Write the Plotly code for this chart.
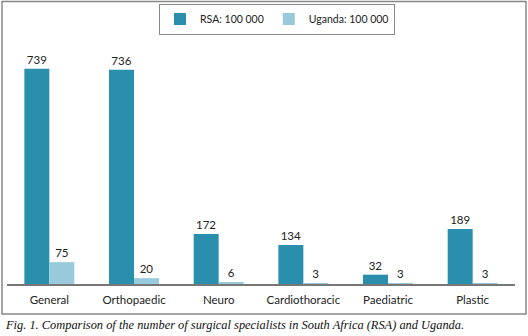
import plotly.graph_objects as go

categories = ["General", "Orthopaedic", "Neuro", "Cardiothoracic", "Paediatric", "Plastic"]
rsa_values = [739, 736, 172, 134, 32, 189]
uganda_values = [75, 20, 6, 3, 3, 3]
rsa_name = "RSA: 100 000"
uganda_name = "Uganda: 100 000"
caption = "Fig. 1. Comparison of the number of surgical specialists in South Africa (RSA) and Uganda."

W, H = 528, 336
L, R, T, B = 7, 13, 40, 52
pw, ph = W - L - R, H - T - B

def px(x):
    return (x - L) / pw

def py(y):
    return (H - B - y) / ph

font_family = "Lato, Open Sans, sans-serif"

fig = go.Figure()
fig.add_trace(go.Bar(
    x=categories, y=rsa_values, name=rsa_name,
    marker=dict(color="#2A8FAD", line=dict(width=0)),
    text=[str(v) for v in rsa_values], textposition="outside",
    textfont=dict(size=11.5, color="#222"), cliponaxis=False,
))
fig.add_trace(go.Bar(
    x=categories, y=uganda_values, name=uganda_name,
    marker=dict(color="#98CADB", line=dict(width=0)),
    text=[str(v) for v in uganda_values], textposition="outside",
    textfont=dict(size=11.5, color="#222"), cliponaxis=False,
))

fig.update_layout(
    width=W, height=H,
    margin=dict(l=L, r=R, t=T, b=B, autoexpand=False),
    paper_bgcolor="white", plot_bgcolor="white",
    font=dict(family=font_family, size=11, color="#222"),
    barmode="group", bargap=0.41, bargroupgap=0,
    showlegend=True,
    legend=dict(
        orientation="h", xref="container", yref="container",
        x=277 / W, xanchor="center", y=1 - 19 / H, yanchor="middle",
        bordercolor="#888", borderwidth=1, bgcolor="white",
        font=dict(size=10.5), tracegroupgap=0, itemwidth=30,
    ),
    xaxis=dict(
        showline=True, linecolor="#777", linewidth=1.5, ticks="",
        ticklabelstandoff=4, tickfont=dict(size=11.5), showgrid=False,
        automargin=False,
    ),
    yaxis=dict(range=[0, 838], visible=False, showgrid=False, zeroline=False,
               automargin=False),
    shapes=[dict(
        type="rect", xref="paper", yref="paper",
        x0=px(2), x1=px(526), y0=py(314), y1=py(1.5),
        line=dict(color="#888", width=1.5), fillcolor="rgba(0,0,0,0)", layer="below",
    )],
    annotations=[dict(
        text=caption, xref="paper", yref="paper",
        x=px(3), y=py(325), xanchor="left", yanchor="middle", showarrow=False,
        font=dict(family="Liberation Serif, serif", size=12.4, color="#111", style="italic"),
    )],
)

fig.write_html(
    "out.html",
    config={"displayModeBar": False},
    post_script="document.body.style.margin='0';document.body.style.overflow='hidden';",
)
